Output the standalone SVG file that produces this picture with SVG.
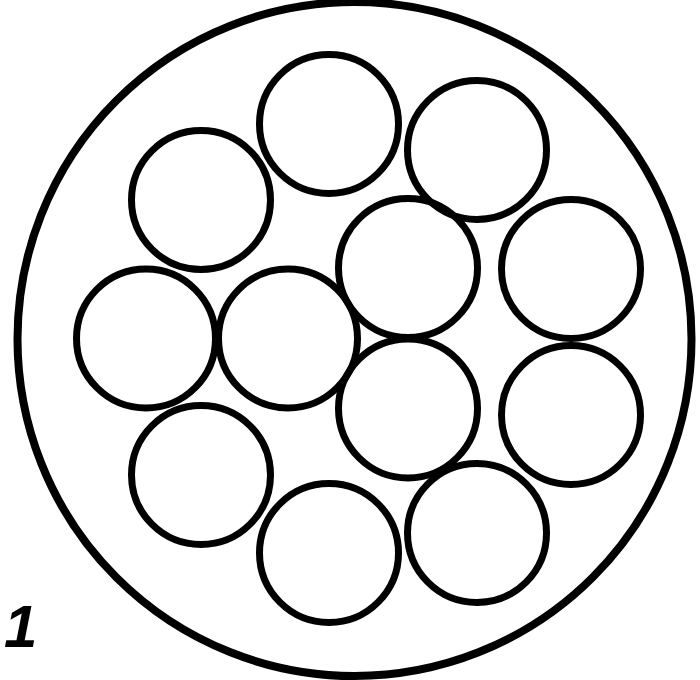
<svg xmlns="http://www.w3.org/2000/svg" width="700" height="680" viewBox="0 0 700 680">
<style>
.o{fill:none;stroke:#000;stroke-width:8}
.c{fill:none;stroke:#000;stroke-width:7}
.l{font-family:"Liberation Sans",Arial,sans-serif;font-weight:bold;font-style:italic;font-size:60px;fill:#000}
</style>
<rect width="700" height="680" fill="#fff"/>
<g id="outer"><circle class="o" cx="354.5" cy="339" r="337"/></g>
<g id="strands">
<circle class="c" cx="329" cy="124" r="69.5"/>
<circle class="c" cx="477" cy="150" r="69.5"/>
<circle class="c" cx="201" cy="200" r="69.5"/>
<circle class="c" cx="408" cy="268" r="69.5"/>
<circle class="c" cx="571" cy="269" r="69.5"/>
<circle class="c" cx="146" cy="338.5" r="69.5"/>
<circle class="c" cx="288" cy="338.5" r="69.5"/>
<circle class="c" cx="408" cy="408.5" r="69.5"/>
<circle class="c" cx="571" cy="415" r="69.5"/>
<circle class="c" cx="201" cy="475" r="69.5"/>
<circle class="c" cx="329" cy="553" r="69.5"/>
<circle class="c" cx="477" cy="533" r="69.5"/>
</g>
<g id="label"><text class="l" x="4" y="647">1</text></g>
</svg>
